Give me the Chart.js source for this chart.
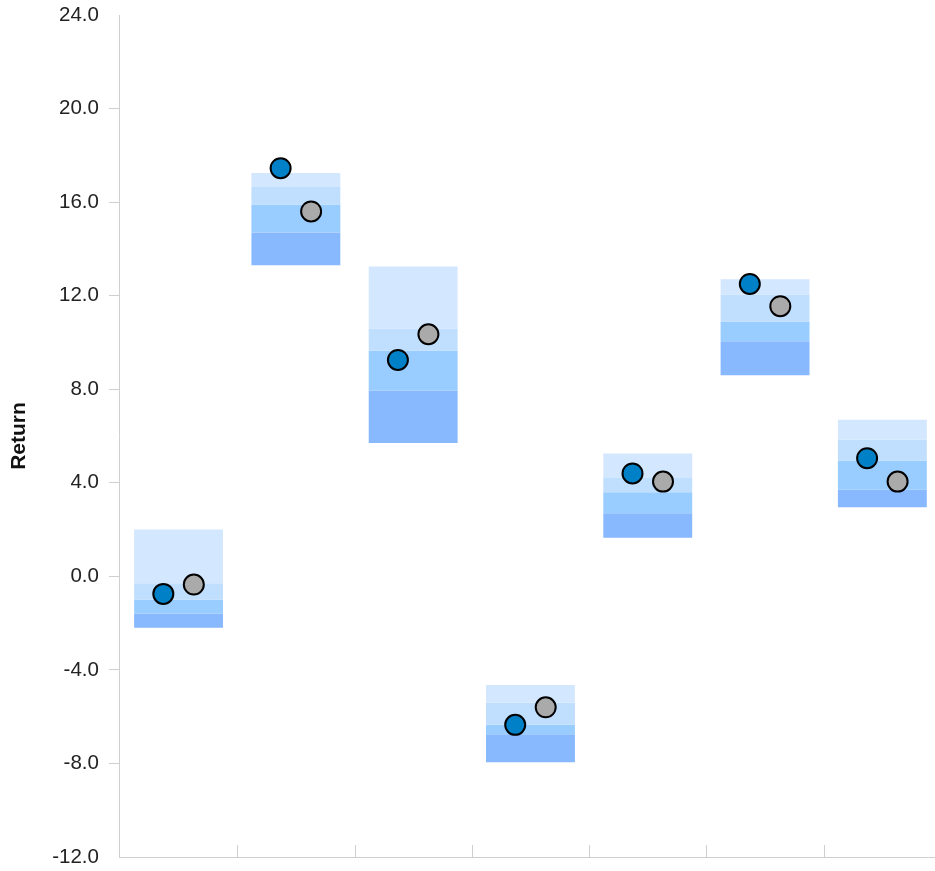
<!DOCTYPE html>
<html>
<head>
<meta charset="utf-8">
<script src="https://cdn.jsdelivr.net/npm/chart.js@4/dist/chart.umd.min.js"></script>
<style>
  body { margin: 0; background: #fff; overflow: hidden; }
  #returnChart { display: block; }
</style>
</head>
<body>
<canvas id="returnChart" width="941" height="871"></canvas>
<script>
// catégories (pas de libellés visibles sur l'axe x)
const categories = ['', '', '', '', '', '', ''];

// bornes des bandes de percentiles, du haut vers le bas
const bandTop = [2.0, 17.25, 13.25, -4.65, 5.25, 12.7, 6.7];
const bandQ1 = [-0.3, 16.65, 10.6, -5.4, 4.2, 12.05, 5.85];
const bandMid = [-1.0, 15.9, 9.65, -6.35, 3.6, 10.9, 4.95];
const bandQ3 = [-1.6, 14.7, 7.95, -6.75, 2.7, 10.05, 3.7];
const bandBottom = [-2.2, 13.3, 5.7, -7.95, 1.65, 8.6, 2.95];

// points
const portfolioReturn = [-0.75, 17.45, 9.25, -6.35, 4.4, 12.5, 5.05];
const benchmarkReturn = [-0.35, 15.6, 10.35, -5.6, 4.05, 11.55, 4.05];

const yTicks = [-12, -8, -4, 0, 4, 8, 12, 16, 20, 24];

function band(hi, lo) {
    return categories.map(function (c, i) { return [lo[i], hi[i]]; });
}
function pts(vals, shift) {
    return vals.map(function (v, i) { return { x: i + shift, y: v }; });
}

const barStyle = {
    xAxisID: 'x',
    grouped: false,
    barPercentage: 0.758,
    categoryPercentage: 1,
    borderWidth: 0,
    order: 2
};

const pointStyle = {
    type: 'scatter',
    xAxisID: 'x2',
    pointRadius: 10,
    pointHoverRadius: 10,
    borderColor: '#000',
    borderWidth: 2,
    order: 0
};

// petits traits vers l'intérieur entre les catégories
const innerTicks = {
    id: 'innerTicks',
    afterDraw: function (chart) {
        const x = chart.scales.x;
        const ctx = chart.ctx;
        const bottom = chart.chartArea.bottom;
        ctx.save();
        ctx.strokeStyle = '#cfcfcf';
        ctx.lineWidth = 1;
        for (let i = 0; i < categories.length - 1; i++) {
            const px = Math.round((x.getPixelForValue(i) + x.getPixelForValue(i + 1)) / 2) + 0.5;
            ctx.beginPath();
            ctx.moveTo(px, bottom);
            ctx.lineTo(px, bottom - 12);
            ctx.stroke();
        }
        ctx.restore();
    }
};

const ctx = document.getElementById('returnChart').getContext('2d');
const returnChart = new Chart(ctx, {
    type: 'bar',
    data: {
        labels: categories,
        datasets: [
            Object.assign({ label: 'Portfolio', data: pts(portfolioReturn, -0.13), backgroundColor: '#0080c6' }, pointStyle),
            Object.assign({ label: 'Benchmark', data: pts(benchmarkReturn, 0.13), backgroundColor: '#aaaaaa' }, pointStyle),
            Object.assign({ label: 'Top', data: band(bandTop, bandQ1), backgroundColor: '#d3e7fe' }, barStyle),
            Object.assign({ label: 'Upper', data: band(bandQ1, bandMid), backgroundColor: '#c0defe' }, barStyle),
            Object.assign({ label: 'Lower', data: band(bandMid, bandQ3), backgroundColor: '#99ccff' }, barStyle),
            Object.assign({ label: 'Bottom', data: band(bandQ3, bandBottom), backgroundColor: '#88b9ff' }, barStyle)
        ]
    },
    options: {
        responsive: false,
        animation: false,
        layout: { autoPadding: false, padding: { top: 15, right: 0, bottom: 6, left: 0 } },
        plugins: {
            legend: { display: false },
            tooltip: { enabled: false }
        },
        scales: {
            x: {
                type: 'category',
                offset: true,
                grid: { display: false },
                border: { display: true, color: '#cfcfcf', width: 1 },
                ticks: { display: false }
            },
            x2: {
                type: 'linear',
                display: false,
                offset: false,
                min: -0.5,
                max: 6.5
            },
            y: {
                min: -12,
                max: 24,
                afterBuildTicks: function (axis) {
                    axis.ticks = yTicks.map(function (v) { return { value: v }; });
                },
                afterFit: function (axis) {
                    axis.paddingTop = 0;
                    axis.paddingBottom = 0;
                },
                grid: {
                    drawOnChartArea: false,
                    drawTicks: true,
                    tickLength: 11,
                    color: function (c) {
                        return (c.tick && (c.tick.value === -12 || c.tick.value === 24)) ? 'rgba(0,0,0,0)' : '#cfcfcf';
                    }
                },
                border: { display: true, color: '#cfcfcf', width: 1 },
                ticks: {
                    padding: 10,
                    color: '#222',
                    font: { family: 'Liberation Sans, Arial, sans-serif', size: 20.5 },
                    callback: function (v) { return Number(v).toFixed(1); }
                },
                title: {
                    display: true,
                    text: 'Return',
                    color: '#111',
                    padding: { top: 7, bottom: 10 },
                    font: { family: 'Liberation Sans, Arial, sans-serif', size: 21, weight: 'bold' }
                }
            }
        }
    },
    plugins: [innerTicks]
});
</script>
</body>
</html>
